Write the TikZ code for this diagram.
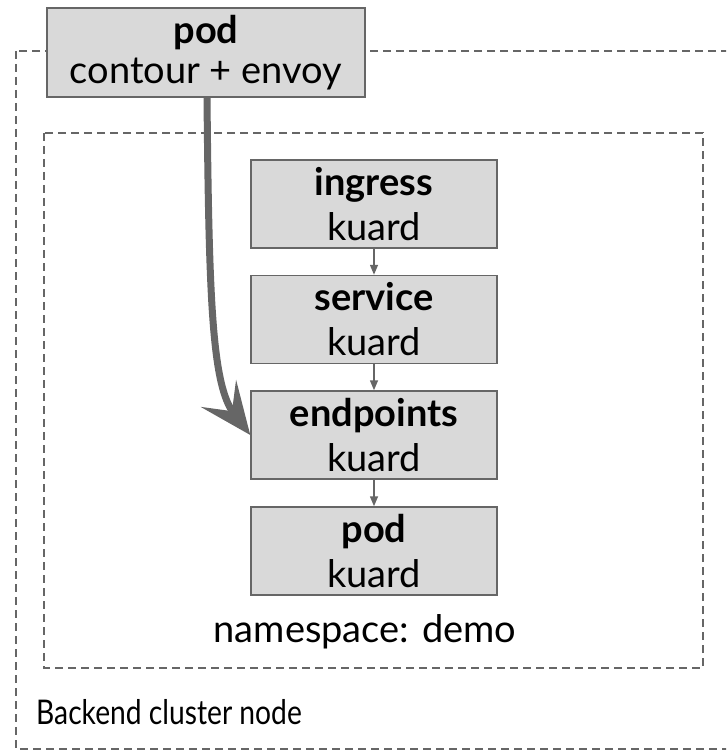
\documentclass[tikz,border=0pt]{standalone}
\usepackage{fontspec}
\setmainfont{Lato}
\usetikzlibrary{arrows.meta}
\definecolor{linegray}{HTML}{666666}
\definecolor{boxfill}{HTML}{D9D9D9}
\tikzset{
  kbox/.style={draw=linegray, line width=1.5pt, fill=boxfill, minimum width=246pt, minimum height=88pt, inner sep=0pt, align=center, font=\fontsize{38}{45}\selectfont},
  dashbox/.style={draw=linegray, line width=1.5pt, dash pattern=on 8pt off 5pt},
  smallarrow/.style={draw=linegray, line width=1.5pt, -{Triangle[length=10pt,width=8pt]}},
  bigarrow/.style={draw=linegray, line width=7pt, -{Stealth[length=52pt,width=44pt,inset=22pt]}},
  plain/.style={font=\fontsize{38}{45}\selectfont, inner sep=0pt}
}
\begin{document}
\begin{tikzpicture}[x=1pt,y=-1pt]
\useasboundingbox (0,0) rectangle (726,751);
\begin{scope}
\clip (0,0) rectangle (726,751);
\draw[dashbox] (16,51) rectangle (760,749);
\end{scope}
\draw[dashbox] (44,133) rectangle (703,668);
\node[kbox, minimum width=318pt, minimum height=89pt, font=\fontsize{38}{40}\selectfont] (top) at (206,52.5) {{\bfseries pod}\\contour + envoy};
\node[kbox] (ing) at (374,204) {{\bfseries ingress}\\kuard};
\node[kbox] (svc) at (374,319.5) {{\bfseries service}\\kuard};
\node[kbox] (ep) at (374,435) {{\bfseries endpoints}\\kuard};
\node[kbox] (pod) at (374,551) {{\bfseries pod}\\kuard};
\node[plain] (ns) at (365,632) {namespace: demo};
\node[plain, font=\fontsize{34}{38}\selectfont\addfontfeatures{FakeStretch=0.83}, anchor=west] (bc) at (36,712) {Backend cluster node};
\draw[smallarrow] (ing) -- (svc);
\draw[smallarrow] (svc) -- (ep);
\draw[smallarrow] (ep) -- (pod);
\draw[bigarrow] (top.south -| 207,0) .. controls (209,300) and (212,385) .. (ep.west);
\end{tikzpicture}
\end{document}
